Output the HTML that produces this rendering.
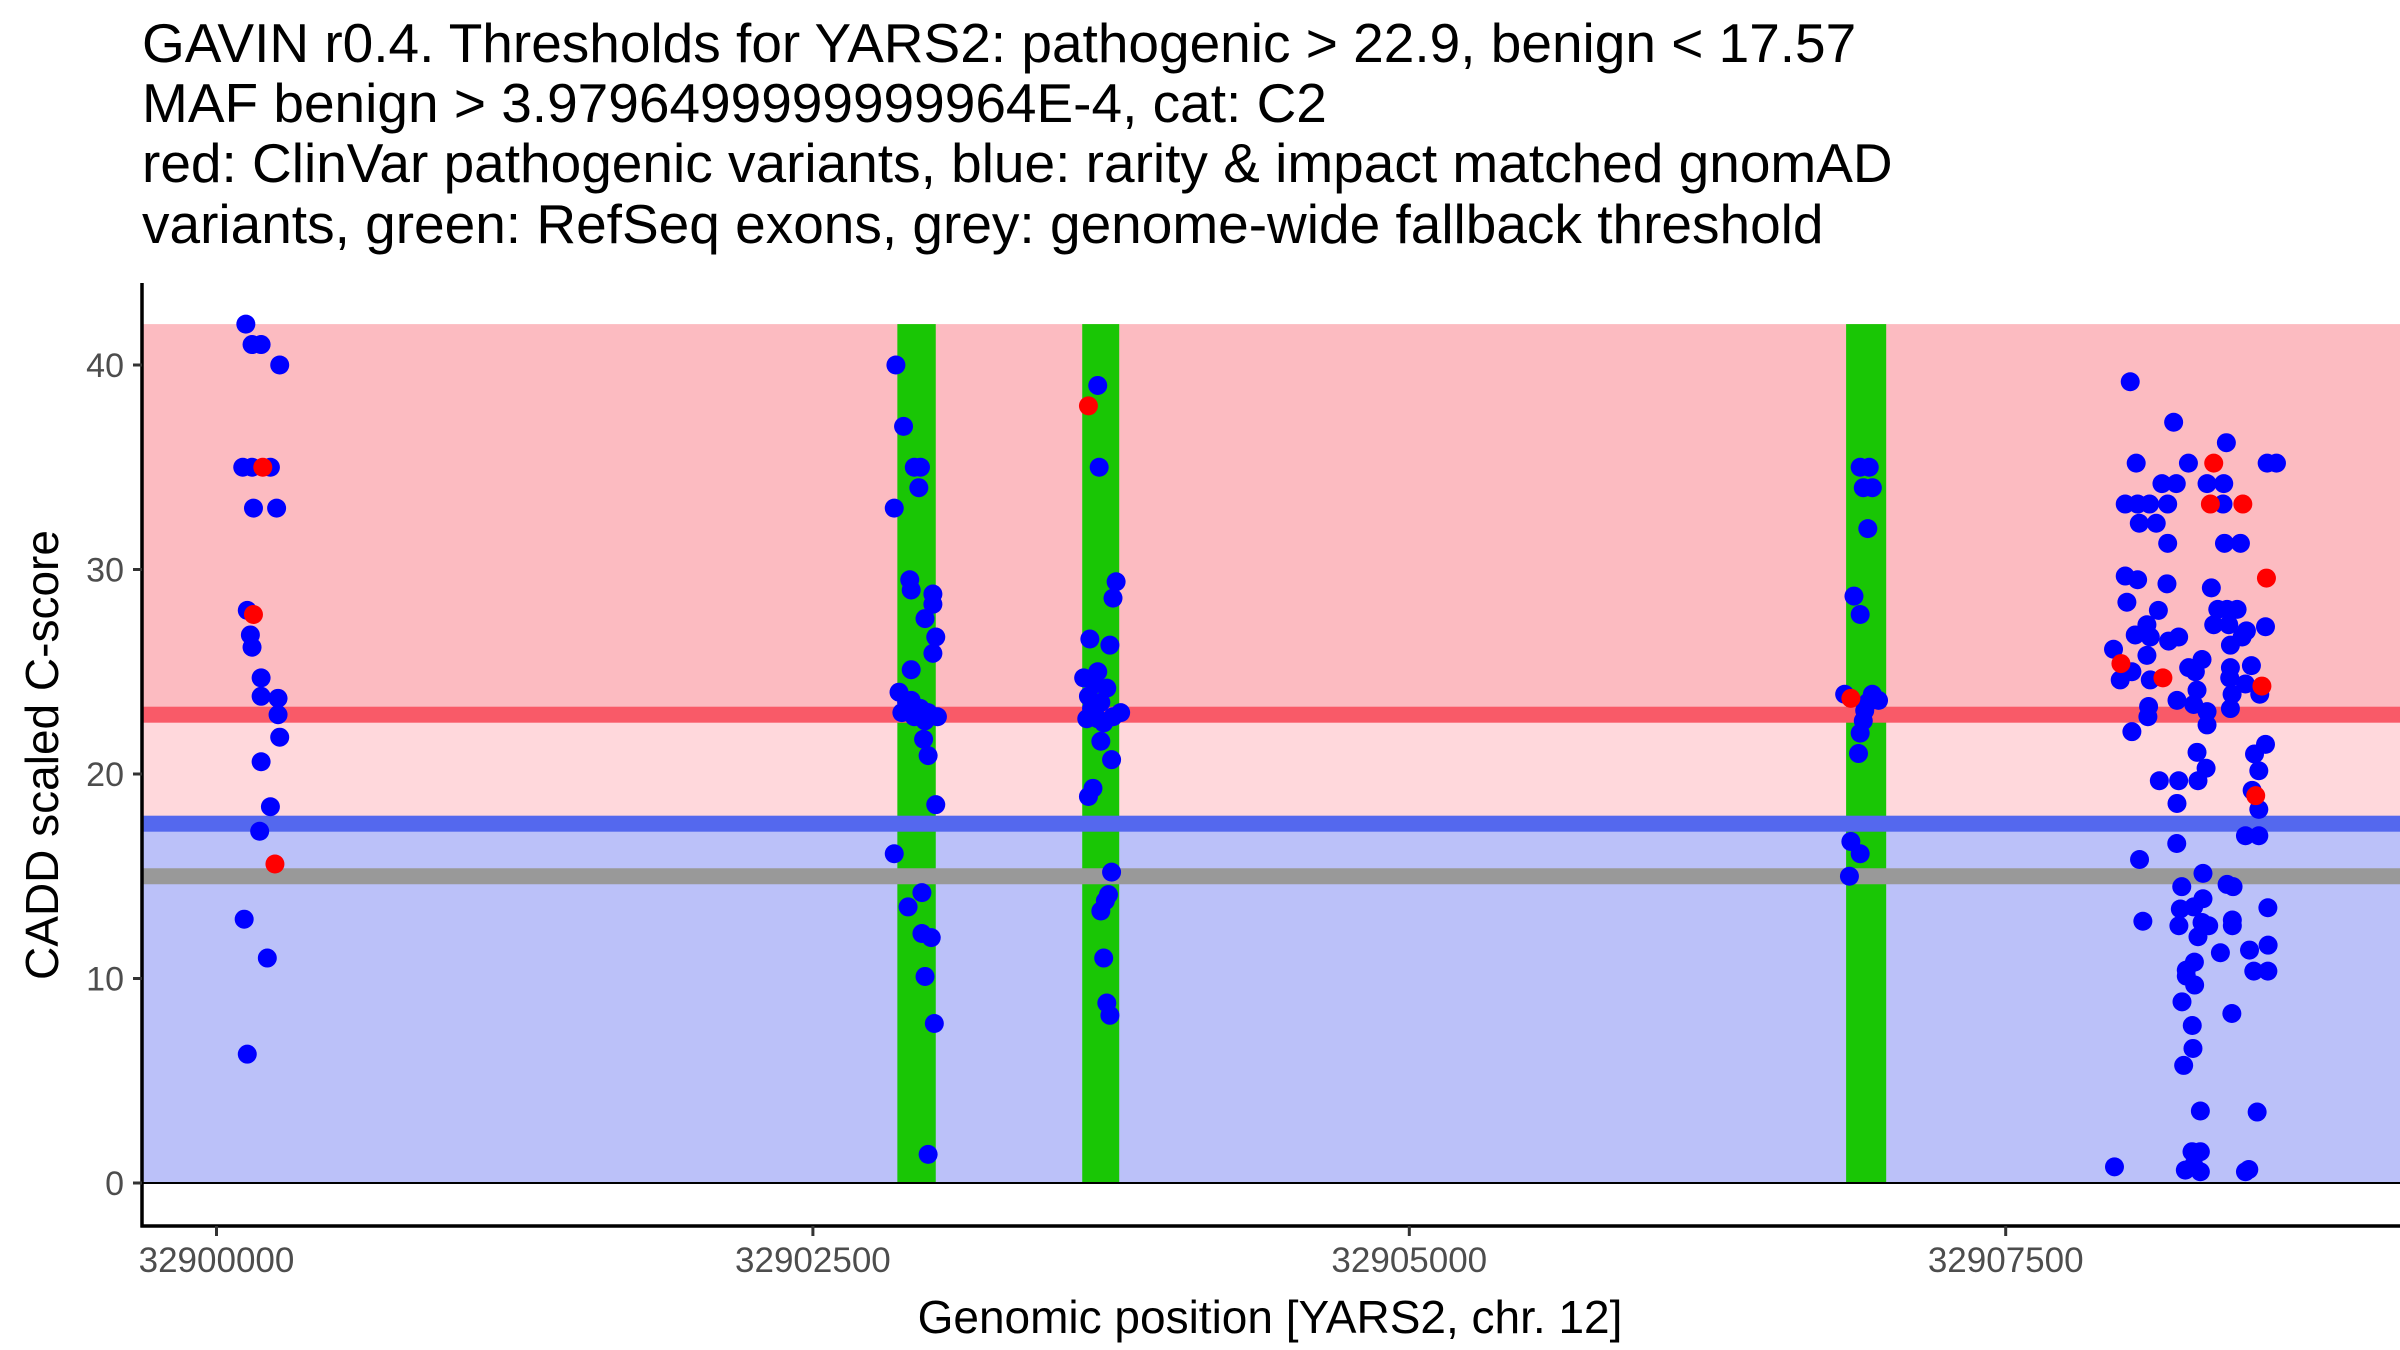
<!DOCTYPE html>
<html><head><meta charset="utf-8"><style>
html,body{margin:0;padding:0;background:#fff;}
svg{display:block;font-family:"Liberation Sans",sans-serif;}
</style></head><body>
<svg id="chart" width="2400" height="1350" viewBox="0 0 2400 1350">
<g font-size="55" fill="#000">
<text x="142" y="62">GAVIN r0.4. Thresholds for YARS2: pathogenic &gt; 22.9, benign &lt; 17.57</text>
<text x="142" y="122">MAF benign &gt; 3.9796499999999964E-4, cat: C2</text>
<text x="142" y="182">red: ClinVar pathogenic variants, blue: rarity &amp; impact matched gnomAD</text>
<text x="142" y="243">variants, green: RefSeq exons, grey: genome-wide fallback threshold</text>
</g>
<g id="bands"></g>
<g id="exons"></g>
<g id="lines"></g>
<g id="pts"></g>
<g id="axes"></g>
<text x="1270" y="1333" font-size="46" text-anchor="middle" fill="#000">Genomic position [YARS2, chr. 12]</text>
<text transform="translate(58,755) rotate(-90)" font-size="46" text-anchor="middle" fill="#000">CADD scaled C-score</text>
</svg>
<script>
const pathoThreshold = 22.9;
const benignThreshold = 17.57;
const fallbackThreshold = 15;
const bandTop = 42;
const xTicks = [32900000, 32902500, 32905000, 32907500];
const yTicks = [0, 10, 20, 30, 40];
const exonStarts = [32902854, 32903629, 32906831];
const exonEnds = [32903015, 32903784, 32906999];
const bluePos = [
32900123,32900149,32900187,32900265,32900110,32900149,32900226,32900155,32900252,32900129,32900142,32900149,32900187,32900187,32900258,32900258,32900265,32900187,32900226,32900181,32900116,32900213,32900129,
32902848,32902841,32902880,32902925,32902951,32902944,32902906,32902912,32903003,32903003,32902970,32903015,32903003,32902912,32902861,32902893,32902873,32902925,32902951,32902983,32903022,32902970,32902912,32902964,32902983,32903015,32902841,32902957,32902899,32902957,32902996,32902970,32903009,32902983,
32903694,32903700,32903771,32903758,32903661,32903745,32903694,32903635,32903681,32903732,32903655,32903707,32903668,32903648,32903694,32903758,32903790,32903719,32903707,32903752,32903674,32903655,32903752,32903739,32903726,32903707,32903719,32903732,32903745,
32906890,32906928,32906903,32906941,32906922,32906864,32906890,32906825,32906922,32906941,32906967,32906909,32906903,32906890,32906883,32906851,32906890,32906845,
32908022,32908204,32908425,32908047,32908266,32908596,32908635,32908155,32908215,32908344,32908414,32908001,32908053,32908103,32908179,32908411,32908060,32908131,32908179,32908417,32908484,32908001,32908053,32908176,32908362,32908008,32908140,32908389,32908428,32908470,32908092,32908372,32908435,32908043,32908106,32908183,32908225,32908509,32908491,32908442,32908589,32907952,32908092,32908029,32907980,32908106,32908267,32908323,32908295,32908442,32908439,32908530,32908505,32908565,32908449,32908442,32908218,32908302,32908288,32908344,32908344,32908099,32908096,32908029,32908302,32908589,32908543,32908561,32908340,32908144,32908225,32908306,32908533,32908218,32908561,32908505,32908561,32908217,
32908061,32908327,32908238,32908428,32908453,32908327,32908232,32908288,32908599,32908075,32908226,32908323,32908351,32908306,32908450,32908450,32908400,32908522,32908600,32908540,32908599,32908291,32908257,32908257,32908292,32908239,32908448,32908282,32908285,32908246,32908316,32908554,32907956,32908281,32908316,32908253,32908316,32908288,32908505,32908519];
const blueScore = [
42,41,41,40,35,35,35,33,33,28,26.8,26.2,24.7,23.8,23.7,22.9,21.8,20.6,18.4,17.2,12.9,11,6.3,
40,33,37,35,35,34,29.5,29,28.8,28.3,27.6,26.7,25.9,25.1,24,23.5,23,22.8,23.2,23,22.8,22.6,23.6,21.7,20.9,18.5,16.1,14.2,13.5,12.2,12,10.1,7.8,1.4,
39,35,29.4,28.6,26.6,26.3,25,24.7,24.4,24.2,23.8,23.5,23.2,22.7,22.7,22.8,23,22.5,21.6,20.7,19.3,18.9,15.2,14.1,13.8,13.3,11,8.8,8.2,
35,35,34,34,32,28.7,27.8,23.9,23.5,23.9,23.6,23.1,22.6,22,21,16.7,16.1,15,
39.18,37.2,36.2,35.2,35.2,35.2,35.2,34.2,34.2,34.2,34.2,33.2,33.2,33.2,33.2,33.2,32.26,32.26,31.28,31.28,31.28,29.68,29.5,29.3,29.1,28.4,28,28.05,28.05,28.05,27.3,27.3,27.3,26.8,26.7,26.5,26.7,27,26.7,26.3,27.2,26.1,25.8,25,24.6,24.6,25.2,25.6,25,25.2,24.7,25.3,24.4,23.9,23.9,23.2,23.6,24.1,23.4,23.05,22.4,23.3,22.8,22.07,21.06,21.45,20.98,20.16,20.28,19.67,19.67,19.67,19.2,18.56,18.27,16.98,16.98,16.6,
15.82,15.14,14.49,14.6,14.49,13.9,13.4,13.5,13.46,12.8,12.58,12.74,12.58,12.04,12.86,12.58,11.26,11.39,11.63,10.36,10.36,10.8,10.41,10.12,9.68,8.86,8.29,7.7,6.58,5.75,3.52,3.47,0.79,1.53,1.53,0.63,0.55,0.88,0.55,0.66];
const redPos = [32900194,32900155,32900245,32903655,32906851,32908372,32908358,32908494,32908593,32907983,32908159,32908574,32908548];
const redScore = [35,27.8,15.6,38,23.7,35.2,33.2,33.2,29.58,25.4,24.7,24.3,18.94];

const X0=142, X1=2400, Y0=283, Y1=1226;
const xs = g => 216.5 + (g-32900000)*0.23856;
const ys = v => 1183 - v*20.45;
const NS='http://www.w3.org/2000/svg';
function mk(parent,tag,attrs){const e=document.createElementNS(NS,tag);for(const k in attrs)e.setAttribute(k,attrs[k]);parent.appendChild(e);return e;}
const bands=document.getElementById('bands');
let e;
e=mk(bands,'rect',{x:X0,y:ys(bandTop),width:X1-X0,height:ys(pathoThreshold)-ys(bandTop),fill:'#FCBBC1'});


e=mk(bands,'rect',{x:X0,y:ys(pathoThreshold),width:X1-X0,height:ys(benignThreshold)-ys(pathoThreshold),fill:'#FFD8DC'});


e=mk(bands,'rect',{x:X0,y:ys(benignThreshold),width:X1-X0,height:ys(0)-ys(benignThreshold),fill:'#BBC1F9'});


const lines=document.getElementById('lines');
e=mk(lines,'rect',{x:X0,y:ys(pathoThreshold)-8,width:X1-X0,height:16,fill:'#F95A68'});


e=mk(lines,'rect',{x:X0,y:ys(benignThreshold)-8,width:X1-X0,height:16,fill:'#5468EE'});


e=mk(lines,'rect',{x:X0,y:ys(fallbackThreshold)-8,width:X1-X0,height:16,fill:'#999999'});


const exons=document.getElementById('exons');
for(let i=0;i<exonStarts.length;i++){
  e=mk(exons,'rect',{x:xs(exonStarts[i]),y:ys(bandTop),width:xs(exonEnds[i])-xs(exonStarts[i]),height:ys(0)-ys(bandTop),fill:'#19C605'});
  
  
}
e=mk(lines,'line',{x1:X0,x2:X1,y1:ys(0),y2:ys(0),stroke:'#000','stroke-width':2});


exons.parentNode.insertBefore(exons, lines);
const pts=document.getElementById('pts');
for(let i=0;i<bluePos.length;i++){
  e=mk(pts,'circle',{cx:xs(bluePos[i]),cy:ys(blueScore[i]),r:9.5,fill:'#0000FF'});
  
  
}
for(let i=0;i<redPos.length;i++){
  e=mk(pts,'circle',{cx:xs(redPos[i]),cy:ys(redScore[i]),r:9.5,fill:'#FF0000'});
  
  
}
const axes=document.getElementById('axes');
e=mk(axes,'line',{x1:X0,x2:X0,y1:Y0,y2:Y1+1.5,stroke:'#000','stroke-width':3.5});


e=mk(axes,'line',{x1:X0-1.5,x2:X1,y1:Y1,y2:Y1,stroke:'#000','stroke-width':3.5});


yTicks.forEach(v=>{
  e=mk(axes,'line',{x1:X0-9,x2:X0,y1:ys(v),y2:ys(v),stroke:'#333','stroke-width':3});
  
  
  e=mk(axes,'text',{x:X0-18,y:ys(v)+12,'font-size':34,'text-anchor':'end',fill:'#4D4D4D'});
  e.textContent=v;
  
  
});
xTicks.forEach(v=>{
  e=mk(axes,'line',{x1:xs(v),x2:xs(v),y1:Y1,y2:Y1+10,stroke:'#333','stroke-width':3});
  
  
  e=mk(axes,'text',{x:xs(v),y:Y1+46,'font-size':35,'text-anchor':'middle',fill:'#4D4D4D'});
  e.textContent=v;
  
  
});
</script>
</body></html>
